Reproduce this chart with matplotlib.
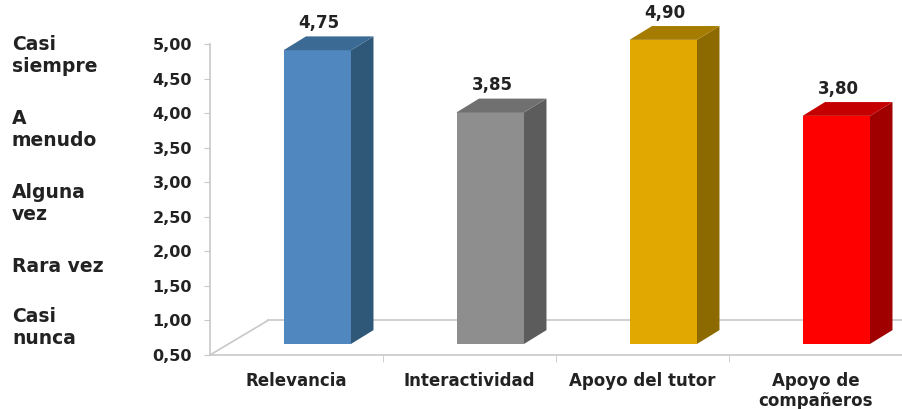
import matplotlib.pyplot as plt
from matplotlib.patches import Polygon

categories = ["Relevancia", "Interactividad", "Apoyo del tutor", "Apoyo de\ncompañeros"]
values = [4.75, 3.85, 4.90, 3.80]
value_labels = ["4,75", "3,85", "4,90", "3,80"]
front_colors = ["#4F87BE", "#8E8E8E", "#E0A800", "#FF0000"]
side_colors = ["#2F5878", "#5C5C5C", "#8C6A00", "#A00000"]
top_colors = ["#3B6A95", "#707070", "#A67C00", "#C40000"]
y_ticks = [0.5, 1.0, 1.5, 2.0, 2.5, 3.0, 3.5, 4.0, 4.5, 5.0]
scale_labels = ["Casi\nsiempre", "A\nmenudo", "Alguna\nvez", "Rara vez", "Casi\nnunca"]
scale_label_y = [56, 130, 203, 267, 327]  # pixel centres from top

W, H = 903, 409
base = 0.5
shift = 0.12      # front face offset to the right (category units)
width = 0.39
dz = 0.16         # front face lifted (value units)
dx, dy = 0.13, 0.20  # depth of the 3D box

fig = plt.figure(figsize=(W / 100, H / 100), dpi=100)
ax = fig.add_axes([210 / W, (H - 355) / H, 692 / W, 311 / H])
ax.set_xlim(-0.5, 3.5)
ax.set_ylim(0.5, 5.0)

grey = "#C8C8C8"
# floor
ax.plot([-0.5, -0.165], [0.5, 1.0], color=grey, lw=1.2, clip_on=False)
ax.plot([-0.165, 3.5], [1.0, 1.0], color=grey, lw=1.2, clip_on=False)

for i, v in enumerate(values):
    x0 = i + shift - width / 2
    x1 = x0 + width
    b = base + dz
    t = v + dz
    ax.bar(i + shift, t - b, width=width, bottom=b, color=front_colors[i],
           zorder=3, clip_on=False)
    side = Polygon([(x1, b), (x1 + dx, b + dy), (x1 + dx, t + dy), (x1, t)],
                   closed=True, facecolor=side_colors[i], edgecolor="none",
                   zorder=3, clip_on=False)
    top = Polygon([(x0, t), (x1, t), (x1 + dx, t + dy), (x0 + dx, t + dy)],
                  closed=True, facecolor=top_colors[i], edgecolor="none",
                  zorder=3, clip_on=False)
    ax.add_patch(side)
    ax.add_patch(top)
    ax.annotate(value_labels[i], (i + shift + 0.01, t + dy), xytext=(0, 3),
                textcoords="offset points", ha="center", va="bottom",
                fontsize=12, fontweight="bold", color="#222222", annotation_clip=False)

for s in ["top", "right"]:
    ax.spines[s].set_visible(False)
ax.spines["left"].set_color(grey)
ax.spines["bottom"].set_color(grey)
ax.spines["left"].set_linewidth(1.2)
ax.spines["bottom"].set_linewidth(1.2)

ax.set_yticks(y_ticks)
ax.set_yticklabels([f"{t:.2f}".replace(".", ",") for t in y_ticks])
ax.tick_params(axis="y", length=4, color=grey, pad=9, labelsize=11.5, labelcolor="#222222")
for lab in ax.get_yticklabels():
    lab.set_fontweight("bold")

ax.set_xticks([0, 1, 2, 3])
ax.set_xticklabels(categories)
ax.set_xticks([0.5, 1.5, 2.5], minor=True)
ax.tick_params(axis="x", which="major", length=0, pad=12, labelsize=12, labelcolor="#222222")
ax.tick_params(axis="x", which="minor", length=5, color=grey)
for lab in ax.get_xticklabels():
    lab.set_fontweight("bold")
    lab.set_linespacing(1.15)

for lab, yp in zip(scale_labels, scale_label_y):
    fig.text(12 / W, 1 - yp / H, lab, ha="left", va="center", fontsize=13.5,
             fontweight="bold", color="#222222", linespacing=1.2)

fig.savefig("out.png", dpi=100)
